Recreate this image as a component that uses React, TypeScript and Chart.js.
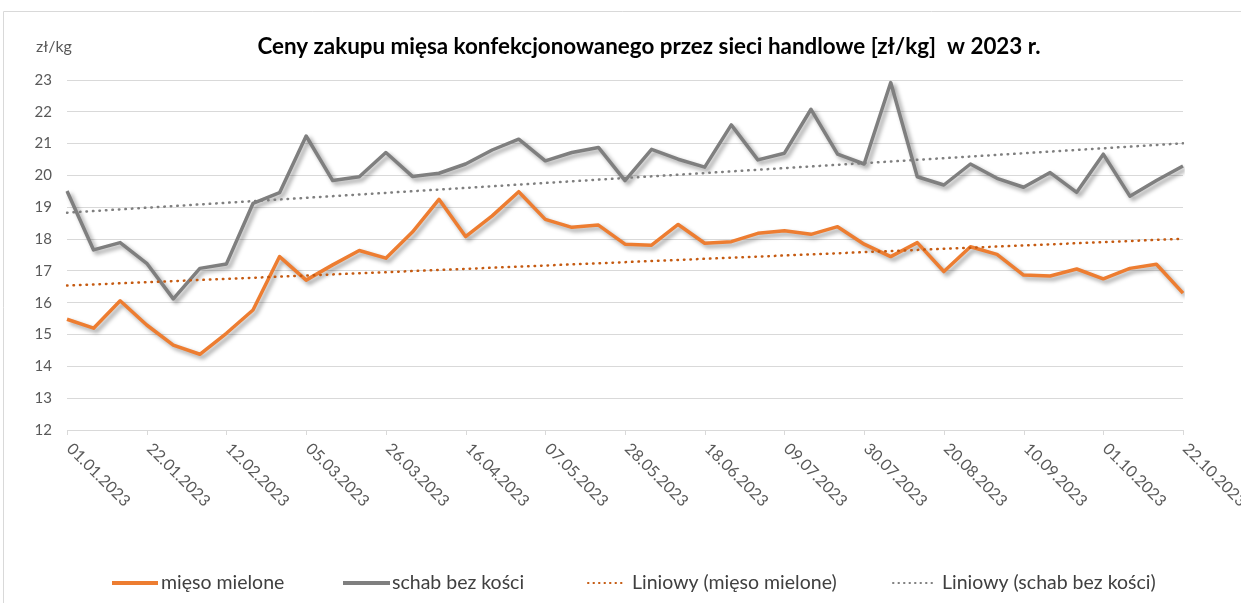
import React, { useEffect, useRef } from "react";
import { Chart, registerables } from "chart.js";

Chart.register(...registerables);

const dates = [
  "01.01.2023", "08.01.2023", "15.01.2023", "22.01.2023", "29.01.2023",
  "05.02.2023", "12.02.2023", "19.02.2023", "26.02.2023",
  "05.03.2023", "12.03.2023", "19.03.2023", "26.03.2023",
  "02.04.2023", "09.04.2023", "16.04.2023", "23.04.2023", "30.04.2023",
  "07.05.2023", "14.05.2023", "21.05.2023", "28.05.2023",
  "04.06.2023", "11.06.2023", "18.06.2023", "25.06.2023",
  "02.07.2023", "09.07.2023", "16.07.2023", "23.07.2023", "30.07.2023",
  "06.08.2023", "13.08.2023", "20.08.2023", "27.08.2023",
  "03.09.2023", "10.09.2023", "17.09.2023", "24.09.2023",
  "01.10.2023", "08.10.2023", "15.10.2023", "22.10.2023",
];

const miesoMielone = [
  15.48, 15.2, 16.06, 15.3, 14.67, 14.38, 15.04, 15.77, 17.45, 16.71, 17.19,
  17.64, 17.4, 18.22, 19.25, 18.08, 18.73, 19.49, 18.62, 18.37, 18.44, 17.84,
  17.81, 18.46, 17.87, 17.92, 18.18, 18.26, 18.15, 18.39, 17.84, 17.45, 17.89,
  16.98, 17.76, 17.52, 16.87, 16.84, 17.06, 16.75, 17.08, 17.21, 16.3,
];

const schabBezKosci = [
  19.51, 17.66, 17.89, 17.24, 16.12, 17.08, 17.22, 19.12, 19.46, 21.24, 19.84,
  19.96, 20.72, 19.97, 20.07, 20.36, 20.8, 21.14, 20.46, 20.72, 20.88, 19.84,
  20.82, 20.51, 20.26, 21.59, 20.49, 20.7, 22.08, 20.67, 20.36, 22.92, 19.96,
  19.7, 20.36, 19.91, 19.63, 20.09, 19.47, 20.67, 19.35, 19.84, 20.3,
];

// trendline end values (start, end)
const trendMieso = [16.54, 18.01];
const trendSchab = [18.83, 21.01];

const labelStep = 3;
const title = "Ceny zakupu mięsa konfekcjonowanego przez sieci handlowe [zł/kg]  w 2023 r.";
const unitLabel = "zł/kg";
const seriesNames = [
  "mięso mielone",
  "schab bez kości",
  "Liniowy (mięso mielone)",
  "Liniowy (schab bez kości)",
];

const ORANGE = "#ED7D31";
const GRAY = "#7F7F7F";
const ORANGE_TREND = "#C55A11";
const GRAY_TREND = "#7F7F7F";
const TEXT = "#595959";
const GRID = "#D9D9D9";
const FONT = "Lato, 'Open Sans', sans-serif";

function endsOnly(arr: number[], n: number) {
  const out: (number | null)[] = new Array(n).fill(null);
  out[0] = arr[0];
  out[n - 1] = arr[1];
  return out;
}

const shadowPlugin = {
  id: "shadowPlugin",
  beforeDatasetDraw(chart: any, args: any) {
    const ds = chart.data.datasets[args.index];
    if (ds && ds._shadow) {
      const ctx = chart.ctx;
      ctx.save();
      ctx.shadowColor = "rgba(0,0,0,0.38)";
      ctx.shadowBlur = 4;
      ctx.shadowOffsetX = 3;
      ctx.shadowOffsetY = 3;
    }
  },
  afterDatasetDraw(chart: any, args: any) {
    const ds = chart.data.datasets[args.index];
    if (ds && ds._shadow) chart.ctx.restore();
  },
};

const decorPlugin = {
  id: "decorPlugin",
  afterDraw(chart: any) {
    const ctx = chart.ctx;
    const xs = chart.scales.x;
    const area = chart.chartArea;
    ctx.save();
    // frame
    ctx.strokeStyle = GRID;
    ctx.lineWidth = 1;
    ctx.beginPath();
    ctx.moveTo(3.5, 603);
    ctx.lineTo(3.5, 11.5);
    ctx.lineTo(1241, 11.5);
    ctx.stroke();

    // title
    ctx.fillStyle = "#000";
    ctx.font = `bold 22.4px ${FONT}`;
    ctx.textAlign = "center";
    ctx.textBaseline = "middle";
    ctx.fillText(title, 649, 47);

    // unit
    ctx.fillStyle = TEXT;
    ctx.font = `16px ${FONT}`;
    ctx.textAlign = "left";
    ctx.fillText(unitLabel, 36, 47);

    // x tick marks + labels
    ctx.strokeStyle = GRID;
    ctx.lineWidth = 1;
    ctx.font = `16px ${FONT}`;
    ctx.fillStyle = TEXT;
    for (let i = 0; i < dates.length; i += labelStep) {
      const px = Math.round(xs.getPixelForValue(i)) + 0.5;
      ctx.beginPath();
      ctx.moveTo(px, area.bottom);
      ctx.lineTo(px, area.bottom + 5);
      ctx.stroke();
      ctx.save();
      ctx.translate(px + 2, area.bottom + 16);
      ctx.rotate(Math.PI / 4);
      ctx.textAlign = "left";
      ctx.textBaseline = "middle";
      ctx.fillText(dates[i], 0, 0);
      ctx.restore();
    }

    // legend
    const ly = 583;
    ctx.font = `19.5px ${FONT}`;
    ctx.textBaseline = "middle";
    ctx.textAlign = "left";
    const items = [
      { x0: 112, x1: 158, tx: 161, color: ORANGE, dotted: false },
      { x0: 343, x1: 390, tx: 392, color: GRAY, dotted: false },
      { x0: 588, x1: 626, tx: 632, color: ORANGE_TREND, dotted: true },
      { x0: 893, x1: 933, tx: 942, color: GRAY_TREND, dotted: true },
    ];
    items.forEach((it, k) => {
      ctx.save();
      ctx.strokeStyle = it.color;
      if (it.dotted) {
        ctx.lineWidth = 2;
        ctx.lineCap = "round";
        ctx.setLineDash([0.5, 5]);
      } else {
        ctx.lineWidth = 4;
        ctx.lineCap = "butt";
      }
      ctx.beginPath();
      ctx.moveTo(it.x0, ly);
      ctx.lineTo(it.x1, ly);
      ctx.stroke();
      ctx.restore();
      ctx.fillStyle = "#404040";
      ctx.fillText(seriesNames[k], it.tx, ly);
    });
    ctx.restore();
  },
};

export default function App() {
  const ref = useRef<HTMLCanvasElement | null>(null);

  useEffect(() => {
    if (!ref.current) return;
    const n = dates.length;
    const chart = new Chart(ref.current, {
      type: "line",
      data: {
        labels: dates,
        datasets: [
          {
            label: seriesNames[0],
            data: miesoMielone,
            borderColor: ORANGE,
            backgroundColor: ORANGE,
            borderWidth: 3.5,
            pointRadius: 0,
            tension: 0,
            borderJoinStyle: "round",
            order: 2,
            _shadow: true,
          } as any,
          {
            label: seriesNames[1],
            data: schabBezKosci,
            borderColor: GRAY,
            backgroundColor: GRAY,
            borderWidth: 3.5,
            pointRadius: 0,
            tension: 0,
            borderJoinStyle: "round",
            order: 2,
            _shadow: true,
          } as any,
          {
            label: seriesNames[2],
            data: endsOnly(trendMieso, n),
            borderColor: ORANGE_TREND,
            borderWidth: 2.5,
            borderDash: [0.5, 6],
            borderCapStyle: "round",
            pointRadius: 0,
            spanGaps: true,
            order: 1,
          } as any,
          {
            label: seriesNames[3],
            data: endsOnly(trendSchab, n),
            borderColor: GRAY_TREND,
            borderWidth: 2.5,
            borderDash: [0.5, 6],
            borderCapStyle: "round",
            pointRadius: 0,
            spanGaps: true,
            order: 1,
          } as any,
        ],
      },
      options: {
        animation: false,
        responsive: true,
        maintainAspectRatio: false,
        layout: { padding: { top: 80, right: 58, bottom: 0, left: 0 } },
        plugins: {
          legend: { display: false },
          title: { display: false },
          tooltip: { enabled: false },
        },
        scales: {
          x: {
            type: "category",
            offset: false,
            grid: { display: false },
            border: { display: true, color: GRID, width: 1 },
            ticks: { display: false },
            afterFit: (s: any) => {
              s.height = 173;
            },
          },
          y: {
            min: 12,
            max: 23,
            ticks: {
              stepSize: 1,
              color: TEXT,
              font: { family: FONT, size: 15 },
              padding: 15,
            },
            grid: { color: GRID, lineWidth: 1, drawTicks: false },
            border: { display: false },
            afterFit: (s: any) => {
              s.width = 67;
            },
          },
        },
      },
      plugins: [shadowPlugin, decorPlugin],
    });
    return () => chart.destroy();
  }, []);

  return (
    <div style={{ position: "fixed", left: 0, top: 0, width: 1241, height: 603, background: "#fff" }}>
      <canvas ref={ref} />
    </div>
  );
}
